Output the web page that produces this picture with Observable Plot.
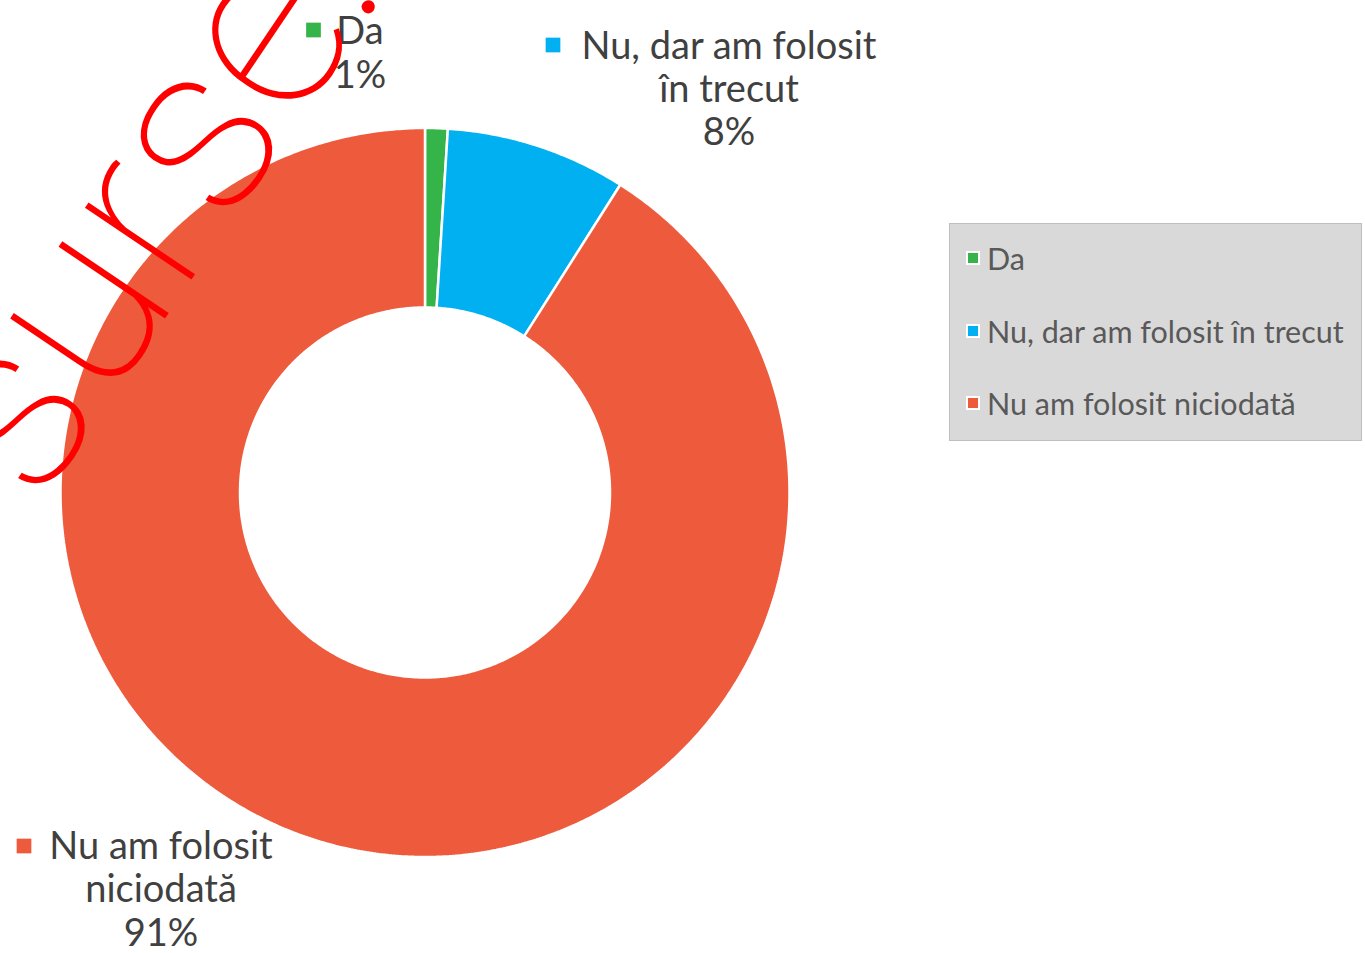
<!DOCTYPE html>
<html><head><meta charset="utf-8">
<script src="https://cdn.jsdelivr.net/npm/d3@7"></script>
<script src="https://cdn.jsdelivr.net/npm/@observablehq/plot@0.6"></script>
<style>
html,body{margin:0;padding:0;background:#fff;}
#wrap{position:relative;width:1365px;height:953px;overflow:hidden;font-family:Lato,"Open Sans",sans-serif;}
#legend{position:absolute;left:949px;top:223px;width:411px;height:216px;background:#D9D9D9;border:1px solid #BFBFBF;}
.li{position:absolute;left:16px;display:flex;align-items:center;font-size:30.5px;color:#595959;white-space:nowrap;transform:translateY(-50%);}
.sw{width:10px;height:10px;border:2px solid #fff;margin-right:7px;flex:none;}
#wm{position:absolute;left:0;top:0;pointer-events:none;}
</style></head><body><div id="wrap"></div>
<script>
const categories = ["Da", "Nu, dar am folosit în trecut", "Nu am folosit niciodată"];
const values = [1, 8, 91];
const colors = ["#35B44A", "#00B0F0", "#EE5A3C"];
const labelText = ["Da", "Nu, dar am folosit\nîn trecut", "Nu am folosit\nniciodată"];
const percentLabels = values.map(v => v + "%");

const W = 1365, H = 953, cx = 424.5, cy = 492, R = 364.5, inner = 185 / 364.5;

// build slice polygons from values
const total = d3.sum(values);
const pts = [];
let acc = 0;
values.forEach((v, i) => {
  const a0 = acc / total * 2 * Math.PI, a1 = (acc + v) / total * 2 * Math.PI;
  acc += v;
  const n = Math.max(4, Math.ceil((a1 - a0) / (Math.PI / 360)));
  const ring = [];
  for (let k = 0; k <= n; k++) { const a = a0 + (a1 - a0) * k / n; ring.push([Math.sin(a), Math.cos(a)]); }
  for (let k = n; k >= 0; k--) { const a = a0 + (a1 - a0) * k / n; ring.push([inner * Math.sin(a), inner * Math.cos(a)]); }
  ring.push(ring[0]);
  ring.forEach(([x, y]) => pts.push({cat: categories[i], x, y}));
});

const labelPos = [
  {tx: 359.5, ty: 51.5, mx: 313, my: 29.5},
  {tx: 728.5, ty: 87.5, mx: 552.5, my: 44.5},
  {tx: 160.5, ty: 888, mx: 23.5, my: 845.5}
];
const labels = categories.map((c, i) => ({cat: c, text: labelText[i] + "\n" + percentLabels[i], ...labelPos[i]}));

const chart = Plot.plot({
  width: W, height: H, margin: 0,
  x: {domain: [-cx / R, (W - cx) / R], axis: null},
  y: {domain: [-(H - cy) / R, cy / R], axis: null},
  color: {domain: categories, range: colors},
  style: {fontFamily: "Lato, 'Open Sans', sans-serif", background: "transparent"},
  marks: [
    Plot.line(pts, {x: "x", y: "y", z: "cat", fill: "cat", stroke: "white", strokeWidth: 2.5, curve: "linear", strokeLinejoin: "miter"}),
    ...labels.map(l => Plot.text([l], {frameAnchor: "top-left", dx: l.tx, dy: l.ty, text: "text", textAnchor: "middle", lineAnchor: "middle", lineHeight: 1.14, fontSize: 38, fill: "#404040"})),
    ...labels.map(l => Plot.dot([l], {frameAnchor: "top-left", dx: l.mx, dy: l.my, symbol: "square", r: 8.3, fill: "cat", stroke: null}))
  ]
});
const wrap = document.getElementById("wrap");
wrap.appendChild(chart);

// legend
const lg = document.createElement("div"); lg.id = "legend";
const ys = [34, 107, 179];
categories.forEach((c, i) => {
  const it = document.createElement("div"); it.className = "li"; it.style.top = ys[i] + "px";
  it.innerHTML = `<span class="sw" style="background:${colors[i]}"></span><span>${c}</span>`;
  lg.appendChild(it);
});
wrap.appendChild(lg);

// watermark
const svg = d3.select(wrap).append("svg").attr("id", "wm").attr("width", W).attr("height", H);
svg.append("text").attr("transform", "translate(38,507) rotate(-56)")
  .attr("font-family", "Roboto, 'DejaVu Sans', sans-serif").attr("font-weight", 100)
  .attr("font-size", 243).attr("fill", "#FF0000").text("surse:");
</script></body></html>
